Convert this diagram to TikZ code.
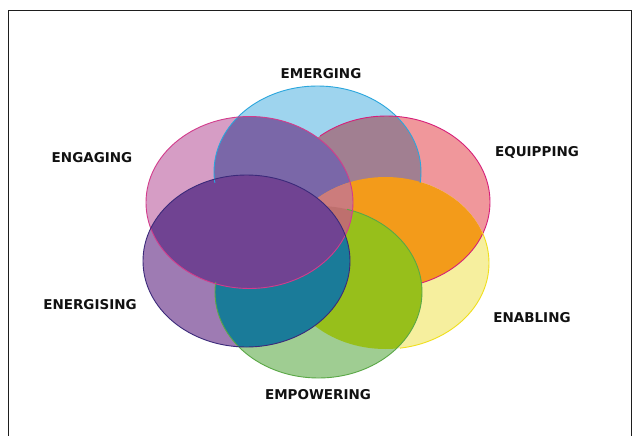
\documentclass[tikz,border=0pt]{standalone}
\usepackage{fontspec}
\setmainfont{DejaVu Sans}
\definecolor{fa}{RGB}{158,212,238}
\definecolor{fb}{RGB}{240,151,155}
\definecolor{fc}{RGB}{246,239,158}
\definecolor{fd}{RGB}{159,205,146}
\definecolor{fe}{RGB}{158,123,179}
\definecolor{ff}{RGB}{214,157,197}
\definecolor{fab}{RGB}{161,127,145}
\definecolor{faf}{RGB}{122,103,168}
\definecolor{fbc}{RGB}{243,155,26}
\definecolor{fcd}{RGB}{151,191,27}
\definecolor{fde}{RGB}{26,123,153}
\definecolor{fef}{RGB}{112,67,146}
\definecolor{fcf}{RGB}{204,124,124}
\definecolor{fcdf}{RGB}{190,112,110}
\definecolor{oa}{RGB}{42,166,221}
\definecolor{ob}{RGB}{214,31,122}
\definecolor{oc}{RGB}{240,223,28}
\definecolor{od}{RGB}{90,168,70}
\definecolor{oe}{RGB}{59,42,122}
\definecolor{of}{RGB}{210,60,140}
\definecolor{labcol}{RGB}{17,17,17}
\definecolor{framecol}{RGB}{30,30,30}
\begin{document}
\begin{tikzpicture}[x=1pt,y=-1pt,
  er/.style={x radius=103.5pt,y radius=86pt},
  lab/.style={font=\fontsize{13.5}{16}\selectfont\bfseries, text=labcol, inner sep=0pt, text height=9.8pt, text depth=0pt},
  ol/.style={line width=0.9pt}]
\useasboundingbox (0,0) rectangle (640,436);
\fill[white] (0,0) rectangle (640,436);
\draw[framecol, line width=1pt] (8,437) -- (8,11) -- (631,11) -- (631,437);
% centres
\coordinate (e1) at (317.5,172);  % emerging
\coordinate (e2) at (386.5,202);  % equipping
\coordinate (e3) at (385.5,263);  % enabling
\coordinate (e4) at (318.5,292);  % empowering
\coordinate (e5) at (246.5,261);  % energising
\coordinate (e6) at (249.5,202.5);% engaging
% single fills
\fill[fa] (e1) ellipse[er];
\fill[fb] (e2) ellipse[er];
\fill[fc] (e3) ellipse[er];
\fill[fd] (e4) ellipse[er];
\fill[fe] (e5) ellipse[er];
\fill[ff] (e6) ellipse[er];
% overlaps
\begin{scope}\clip (e1) ellipse[er]; \fill[fab] (e2) ellipse[er]; \end{scope}
\begin{scope}\clip (e1) ellipse[er]; \fill[faf] (e6) ellipse[er]; \end{scope}
\begin{scope}\clip (e2) ellipse[er]; \fill[fbc] (e3) ellipse[er]; \end{scope}
\begin{scope}\clip (e3) ellipse[er]; \fill[fcd] (e4) ellipse[er]; \end{scope}
\begin{scope}\clip (e6) ellipse[er]; \fill[fcf] (e3) ellipse[er]; \end{scope}
\begin{scope}\clip (e6) ellipse[er]; \clip (e3) ellipse[er]; \fill[fcdf] (e4) ellipse[er]; \end{scope}
\begin{scope}\clip (e4) ellipse[er]; \fill[fde] (e5) ellipse[er]; \end{scope}
\begin{scope}\clip (e5) ellipse[er]; \fill[fef] (e6) ellipse[er]; \end{scope}
% outlines
\begin{scope}\clip (0,0) rectangle (640,182); \draw[ol,oa] (e1) ellipse[er]; \end{scope}
\begin{scope}\clip (320,0) -- (640,0) -- (640,436) -- (421,436) -- (421,232) -- (320,232) -- cycle; \draw[ol,ob] (e2) ellipse[er]; \end{scope}
\begin{scope}\clip (400,232) rectangle (640,436); \draw[ol,oc] (e3) ellipse[er]; \end{scope}
\begin{scope}\clip (347,150) -- (640,150) -- (640,436) -- (100,436) -- (100,282) -- (347,282) -- cycle; \draw[ol,od] (e4) ellipse[er]; \end{scope}
\draw[ol,of] (e6) ellipse[er];
\draw[ol,oe] (e5) ellipse[er];
% labels
\node[lab] (emerging) at (321,73.5) {EMERGING};
\node[lab] (engaging) at (92,158) {ENGAGING};
\node[lab] (equipping) at (537,152) {EQUIPPING};
\node[lab] (energising) at (90,305) {ENERGISING};
\node[lab] (enabling) at (532,317.5) {ENABLING};
\node[lab] (empowering) at (318,394.5) {EMPOWERING};
\end{tikzpicture}
\end{document}
